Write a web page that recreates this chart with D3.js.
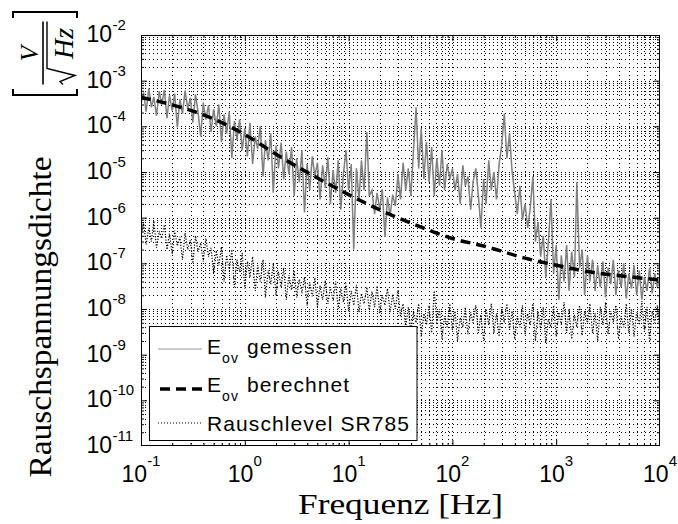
<!DOCTYPE html>
<html><head><meta charset="utf-8">
<script src="https://cdn.jsdelivr.net/npm/d3@7/dist/d3.min.js"></script>
<style>body{margin:0;background:#fff}svg{display:block}</style>
</head><body>
<svg id="chart" width="678" height="524"></svg>
<script>
// ---- data ----
const freqs = [0.1,0.106,0.112,0.119,0.126,0.133,0.141,0.15,0.158,0.168,0.178,0.188,0.2,0.211,0.224,0.237,0.251,0.266,0.282,0.299,0.316,0.335,0.355,0.376,0.398,0.422,0.447,0.473,0.501,0.531,0.562,0.596,0.631,0.668,0.708,0.75,0.794,0.841,0.891,0.944,
1,1.06,1.12,1.19,1.26,1.33,1.41,1.5,1.58,1.68,1.78,1.88,2,2.11,2.24,2.37,2.51,2.66,2.82,2.99,3.16,3.35,3.55,3.76,3.98,4.22,4.47,4.73,5.01,5.31,5.62,5.96,6.31,6.68,7.08,7.5,7.94,8.41,8.91,9.44,
10,10.6,11.2,11.9,12.6,13.3,14.1,15,15.8,16.8,17.8,18.8,20,21.1,22.4,23.7,25.1,26.6,28.2,29.9,31.6,33.5,35.5,37.6,39.8,42.2,44.7,47.3,50.1,53.1,56.2,59.6,63.1,66.8,70.8,75,79.4,84.1,89.1,94.4,
100,106,112,119,126,133,141,150,158,168,178,188,200,211,224,237,251,266,282,299,316,335,355,376,398,422,447,473,501,531,562,596,631,668,708,750,794,841,891,944,
1000,1060,1120,1190,1260,1330,1410,1500,1580,1680,1780,1880,2000,2110,2240,2370,2510,2660,2820,2990,3160,3350,3550,3760,3980,4220,4470,4730,5010,5310,5620,5960,6310,6680,7080,7500,7940,8410,8910,9440,10000];

const measured = [3.2e-4,5.5e-4,2.1e-4,6.8e-4,2.6e-4,4.4e-4,1.7e-4,5.9e-4,3.0e-4,6.3e-4,1.5e-4,4.8e-4,2.2e-4,5.2e-4,9.5e-5,3.9e-4,1.9e-4,6.1e-4,2.4e-4,4.2e-4,
1.2e-4,5.0e-4,2.0e-4,6.0e-5,3.3e-4,1.4e-4,2.9e-4,7.5e-5,2.4e-4,1.0e-4,3.0e-4,4.5e-5,1.8e-4,7.0e-5,2.1e-4,2.0e-5,1.3e-4,5.0e-5,1.4e-4,3.0e-5,
9.0e-5,2.2e-5,1.2e-4,1.5e-5,6.0e-5,3.2e-5,1.0e-4,8.0e-6,5.0e-5,1.8e-5,7.0e-5,3.5e-6,3.8e-5,1.2e-5,4.4e-5,7.0e-6,2.8e-5,9.0e-6,3.5e-5,3.0e-6,
2.0e-5,6.0e-6,3.0e-5,1.3e-6,1.5e-5,4.0e-6,2.2e-5,8.0e-6,1.6e-5,2.5e-6,1.4e-5,4.5e-6,2.1e-5,2.0e-6,1.1e-5,3.5e-6,1.8e-5,1.5e-6,9.0e-6,3.0e-5,
4.0e-6,1.5e-5,2.0e-7,1.2e-5,2.5e-6,1.8e-5,4.0e-6,7.5e-5,3.0e-6,4.0e-6,1.2e-6,3.5e-6,1.5e-6,4.2e-6,3.8e-7,2.8e-6,1.1e-6,3.2e-6,1.8e-6,9.0e-6,
2.5e-6,1.6e-5,4.0e-6,1.2e-5,3.0e-6,3.0e-5,2.6e-4,1.2e-5,9.0e-5,7.0e-6,4.5e-5,6.0e-6,3.5e-5,3.0e-6,2.0e-5,5.0e-6,3.0e-5,4.0e-6,1.5e-5,7.0e-6,
1.2e-5,4.0e-6,9.0e-6,2.0e-6,1.4e-5,5.0e-6,8.0e-6,1.5e-6,6.0e-6,1.2e-5,3.0e-6,6.0e-7,7.0e-6,2.0e-6,1.8e-5,4.0e-6,1.0e-5,2.5e-6,1.5e-5,4.0e-5,
1.9e-4,2.0e-5,7.0e-5,1.0e-5,3.5e-6,1.2e-6,5.0e-6,9.0e-7,2.0e-6,6.0e-7,1.6e-6,8.0e-6,3.0e-7,8.0e-7,1.4e-7,4.0e-7,5.0e-8,3.0e-7,2.5e-6,6.0e-8,
2.5e-7,1.6e-8,1.5e-7,4.0e-8,2.5e-7,2.5e-8,1.8e-7,5.0e-8,6.0e-6,8.0e-8,2.0e-7,2.0e-8,1.5e-7,4.0e-8,1.2e-7,2.5e-8,9.0e-8,3.0e-8,1.1e-7,1.8e-8,
8.0e-8,3.5e-8,1.2e-7,2.0e-8,7.0e-8,3.0e-8,1.0e-7,1.7e-8,6.0e-8,2.8e-8,9.0e-8,2.0e-8,7.0e-8,1.6e-8,5.0e-8,2.5e-8,8.0e-8,2.2e-8,6.0e-8,3.0e-8,4.5e-8];

const noiseFloor = [4.0e-7,7.5e-7,2.6e-7,6.0e-7,3.0e-7,8.5e-7,2.2e-7,5.0e-7,3.5e-7,7.0e-7,2.0e-7,4.5e-7,1.6e-7,5.2e-7,2.4e-7,3.8e-7,1.2e-7,4.6e-7,2.0e-7,3.2e-7,
1.0e-7,4.0e-7,1.8e-7,2.8e-7,1.1e-7,3.5e-7,1.4e-7,2.2e-7,6.0e-8,1.9e-7,9.0e-8,2.3e-7,4.0e-8,1.5e-7,7.0e-8,2.0e-7,3.0e-8,1.2e-7,6.5e-8,1.7e-7,
2.8e-8,1.1e-7,5.0e-8,1.4e-7,2.5e-8,9.0e-8,4.0e-8,1.2e-7,1.8e-8,7.0e-8,3.5e-8,1.0e-7,2.0e-8,6.5e-8,3.0e-8,8.0e-8,1.6e-8,5.5e-8,2.6e-8,7.0e-8,
1.8e-8,4.5e-8,2.2e-8,5.0e-8,1.2e-8,3.8e-8,1.9e-8,4.8e-8,1.1e-8,3.2e-8,1.6e-8,4.2e-8,1.3e-8,3.0e-8,1.5e-8,4.0e-8,1.0e-8,2.8e-8,1.4e-8,3.6e-8,
9.0e-9,2.5e-8,1.2e-8,3.4e-8,8.5e-9,2.2e-8,1.3e-8,3.0e-8,9.5e-9,2.4e-8,1.1e-8,3.2e-8,8.0e-9,2.0e-8,1.2e-8,2.8e-8,8.5e-9,2.1e-8,1.0e-8,2.6e-8,
7.0e-9,1.3e-8,4.0e-9,1.1e-8,3.0e-9,9.0e-9,5.0e-9,1.3e-8,2.5e-9,8.0e-9,4.5e-9,1.2e-8,3.0e-9,2.5e-8,5.0e-9,1.0e-8,2.2e-9,7.0e-9,4.0e-9,1.3e-8,
3.5e-9,9.0e-9,2.0e-9,6.5e-9,4.0e-9,1.1e-8,2.8e-9,8.5e-9,5.0e-9,1.2e-8,3.0e-9,7.5e-9,2.0e-9,1.0e-8,4.5e-9,1.3e-8,3.0e-9,8.0e-9,2.5e-9,1.1e-8,
5.0e-9,1.3e-8,3.5e-9,9.0e-9,2.2e-9,7.0e-9,4.0e-9,1.2e-8,2.8e-9,8.0e-9,4.5e-9,1.3e-8,2.0e-9,9.0e-9,3.5e-9,1.1e-8,1.8e-9,6.0e-9,4.0e-9,1.2e-8,
2.5e-9,8.5e-9,4.5e-9,1.4e-8,3.0e-9,1.0e-8,2.2e-9,7.5e-9,4.0e-9,1.2e-8,2.6e-9,9.0e-9,5.0e-9,1.3e-8,3.0e-9,8.0e-9,2.0e-9,1.1e-8,4.5e-9,1.4e-8,
2.8e-9,9.0e-9,5.0e-9,1.2e-8,2.2e-9,7.0e-9,4.0e-9,1.3e-8,3.0e-9,1.0e-8,2.5e-9,8.5e-9,4.5e-9,1.5e-8,3.2e-9,1.1e-8,2.0e-9,9.0e-9,5.0e-9,1.2e-8,3.5e-9];

const calcFreqs  = [0.1, 0.2, 0.5, 1, 2, 5, 10, 20, 50, 100, 200, 500, 1000, 2000, 5000, 10000];
const calcValues = [4.3e-4, 2.95e-4, 1.45e-4, 6.6e-5, 2.45e-5, 7.4e-6, 3.2e-6, 1.48e-6, 6.2e-7, 3.5e-7, 2.4e-7, 1.3e-7, 9.1e-8, 6.6e-8, 5.1e-8, 4.3e-8];

const xTickExps = [-1, 0, 1, 2, 3, 4];
const yTickExps = [-2, -3, -4, -5, -6, -7, -8, -9, -10, -11];
const xDomain = [1e-1, 1e4];
const yDomain = [1e-11, 1e-2];
const xTitle = "Frequenz [Hz]";
const yTitle = "Rauschspannungsdichte";
const legendItems = [
  {main: "E", sub: "ov", rest: "gemessen"},
  {main: "E", sub: "ov", rest: "berechnet"},
  {main: "Rauschlevel SR785", sub: "", rest: ""}
];

// ---- drawing ----
const svg = d3.select("#chart");
const M = {l: 141, r: 660, t: 35, b: 446};
const x = d3.scaleLog().domain(xDomain).range([M.l, M.r]);
const y = d3.scaleLog().domain(yDomain).range([M.b, M.t]);
const isMajor = v => Math.abs(Math.log10(v) - Math.round(Math.log10(v))) < 1e-6;
const px = v => Math.round(v) + 0.5;

svg.append("rect").attr("x", 0).attr("y", 0).attr("width", 678).attr("height", 524).attr("fill", "#fff");
svg.append("defs").append("clipPath").attr("id", "clip")
  .append("rect").attr("x", M.l).attr("y", M.t).attr("width", M.r - M.l).attr("height", M.b - M.t);

// grid
const grid = svg.append("g").attr("stroke", "#000").attr("stroke-width", 1).attr("fill", "none");
const xt = x.ticks().filter(v => v > xDomain[0] * 1.0001 && v < xDomain[1] * 0.9999);
const yt = y.ticks().filter(v => v > yDomain[0] * 1.0001 && v < yDomain[1] * 0.9999);
grid.selectAll("line.gx").data(xt).join("line")
  .attr("x1", d => px(x(d))).attr("x2", d => px(x(d)))
  .attr("y1", M.t).attr("y2", M.b)
  .attr("stroke-dasharray", "1,3");
grid.selectAll("line.gy").data(yt).join("line")
  .attr("y1", d => px(y(d))).attr("y2", d => px(y(d)))
  .attr("x1", M.l).attr("x2", M.r)
  .attr("stroke-dasharray", "1,3");

// data
const plot = svg.append("g").attr("clip-path", "url(#clip)");
const line = d3.line().x(d => x(d[0])).y(d => y(d[1]));
plot.append("path").datum(freqs.map((f, i) => [f, noiseFloor[i]]))
  .attr("d", line).attr("fill", "none").attr("stroke", "#000")
  .attr("stroke-width", 1.2).attr("stroke-dasharray", "1.2,1.6");
plot.append("path").datum(freqs.map((f, i) => [f, measured[i]]))
  .attr("d", line).attr("fill", "none").attr("stroke", "#808080").attr("stroke-width", 1.5);
plot.append("path").datum(calcFreqs.map((f, i) => [f, calcValues[i]]))
  .attr("d", line.curve(d3.curveMonotoneX)).attr("fill", "none").attr("stroke", "#000")
  .attr("stroke-width", 3.5).attr("stroke-dasharray", "10,6");

// axes ticks (inward, all four sides)
function tickAxis(axisFn, scale, values, size, transform) {
  const a = axisFn(scale).tickValues(values).tickSize(size).tickFormat("");
  const g = svg.append("g").attr("transform", transform).call(a);
  g.select(".domain").remove();
  g.selectAll("line").attr("stroke", "#000");
}
const xMaj = xt.filter(isMajor), xMin = xt.filter(v => !isMajor(v));
const yMaj = yt.filter(isMajor), yMin = yt.filter(v => !isMajor(v));
tickAxis(d3.axisBottom, x, xMaj, -6, `translate(0,${M.b})`);
tickAxis(d3.axisBottom, x, xMin, -3, `translate(0,${M.b})`);
tickAxis(d3.axisTop, x, xMaj, -6, `translate(0,${M.t})`);
tickAxis(d3.axisTop, x, xMin, -3, `translate(0,${M.t})`);
tickAxis(d3.axisLeft, y, yMaj, -6, `translate(${M.l},0)`);
tickAxis(d3.axisLeft, y, yMin, -3, `translate(${M.l},0)`);
tickAxis(d3.axisRight, y, yMaj, -6, `translate(${M.r},0)`);
tickAxis(d3.axisRight, y, yMin, -3, `translate(${M.r},0)`);

svg.append("rect").attr("x", M.l + 0.5).attr("y", M.t + 0.5)
  .attr("width", M.r - M.l - 1).attr("height", M.b - M.t - 1)
  .attr("fill", "none").attr("stroke", "#000").attr("stroke-width", 1);

// tick labels
const sans = "'Liberation Sans', Arial, Helvetica, sans-serif";
const serif = "'Liberation Serif', 'Times New Roman', serif";
const xl = svg.append("g").attr("font-family", sans).attr("fill", "#000");
xTickExps.forEach(e => {
  const t = xl.append("text").attr("x", x(Math.pow(10, e))).attr("y", 482)
    .attr("text-anchor", "middle").attr("font-size", 23);
  t.append("tspan").text("10");
  t.append("tspan").attr("font-size", 15).attr("dy", -16).text(String(e));
});
const yl = svg.append("g").attr("font-family", sans).attr("fill", "#000");
yTickExps.forEach(e => {
  const yy = y(Math.pow(10, e));
  yl.append("text").attr("x", 112).attr("y", yy + 7).attr("text-anchor", "end")
    .attr("font-size", 23).text("10");
  yl.append("text").attr("x", 112.5).attr("y", yy - 5).attr("font-size", 15).text(String(e));
});

// axis titles
svg.append("text").attr("x", (M.l + M.r) / 2).attr("y", 514).attr("text-anchor", "middle")
  .attr("font-family", serif).attr("font-size", 30)
  .attr("textLength", 205).attr("lengthAdjust", "spacingAndGlyphs").text(xTitle);
svg.append("text").attr("transform", "translate(51,317) rotate(-90)").attr("text-anchor", "middle")
  .attr("font-family", serif).attr("font-size", 32)
  .attr("textLength", 321).attr("lengthAdjust", "spacingAndGlyphs").text(yTitle);

// unit [V / sqrt(Hz)] rotated
const u = svg.append("g").attr("transform", "translate(45,53.5) rotate(-90)");
u.append("path").attr("d", "M-35.5,-32 L-41.5,-32 L-41.5,32 L-35.5,32")
  .attr("fill", "none").attr("stroke", "#000").attr("stroke-width", 2);
u.append("path").attr("d", "M35.5,-32 L41.5,-32 L41.5,32 L35.5,32")
  .attr("fill", "none").attr("stroke", "#000").attr("stroke-width", 2);
u.append("path").attr("d", "M-31,-2 L32,-2").attr("stroke", "#000").attr("stroke-width", 1.6);
u.append("text").attr("x", 0).attr("y", -7).attr("text-anchor", "middle")
  .attr("font-family", serif).attr("font-style", "italic").attr("font-size", 25).text("V");
u.append("path").attr("d", "M-31,18 L-28,15 L-22,30 L-15,2 L32,2")
  .attr("fill", "none").attr("stroke", "#000").attr("stroke-width", 1.4);
u.append("text").attr("x", 10).attr("y", 28).attr("text-anchor", "middle")
  .attr("font-family", serif).attr("font-style", "italic").attr("font-size", 28).text("Hz");

// legend
const lg = svg.append("g");
lg.append("rect").attr("x", 149.5).attr("y", 326.5).attr("width", 267.5).attr("height", 114)
  .attr("fill", "#fff").attr("stroke", "#000").attr("stroke-width", 1);
const rowsY = [349, 389, 423];
const baseY = [354, 392, 431];
lg.append("line").attr("x1", 158).attr("x2", 202).attr("y1", rowsY[0]).attr("y2", rowsY[0])
  .attr("stroke", "#999").attr("stroke-width", 1);
lg.append("line").attr("x1", 160).attr("x2", 202).attr("y1", rowsY[1]).attr("y2", rowsY[1])
  .attr("stroke", "#000").attr("stroke-width", 3.5).attr("stroke-dasharray", "10,6");
lg.append("line").attr("x1", 158).attr("x2", 202).attr("y1", rowsY[2]).attr("y2", rowsY[2])
  .attr("stroke", "#000").attr("stroke-width", 1).attr("stroke-dasharray", "1,2");
legendItems.forEach((it, i) => {
  const t = lg.append("text").attr("font-family", sans).attr("font-size", 21).attr("fill", "#000")
    .attr("letter-spacing", 1.1);
  t.append("tspan").attr("x", 207).attr("y", baseY[i]).text(it.main);
  if (it.sub) {
    t.append("tspan").attr("x", 222).attr("y", baseY[i] + 9).attr("font-size", 14).text(it.sub);
    t.append("tspan").attr("x", 247).attr("y", baseY[i]).text(it.rest);
  }
});
</script>
</body></html>
